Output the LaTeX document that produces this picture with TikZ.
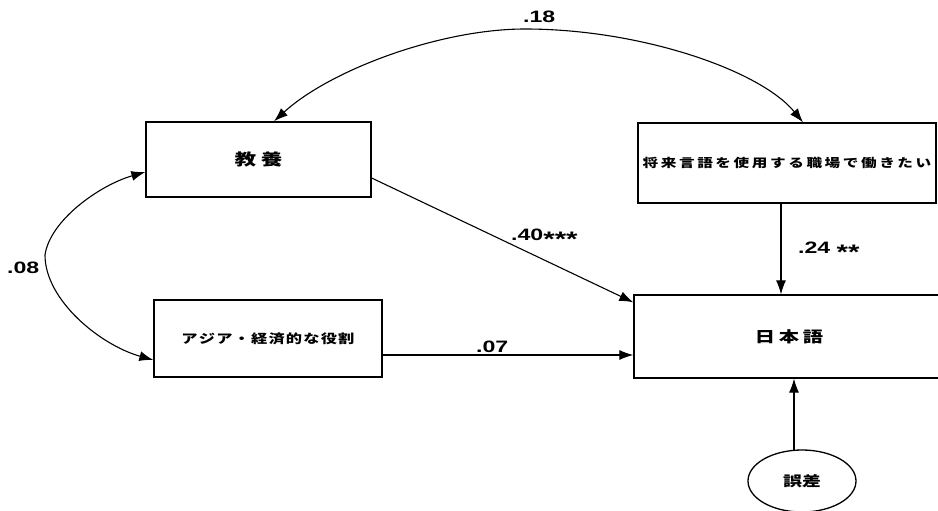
\documentclass[tikz,border=0pt]{standalone}
\usepackage{fontspec}
\usepackage{graphicx}
\newfontfamily\cjk{Noto Sans CJK JP}
\newfontfamily\numf{Liberation Sans}
\usetikzlibrary{arrows.meta,calc,shapes.geometric}

\newcommand\spreadtxt[2]{\def\sprsep{\hspace{#1}}\sprA#2\relax}
\def\sprA#1{#1\sprB}
\def\sprB#1{\ifx\relax#1\else\sprsep#1\expandafter\sprB\fi}
\newcommand\jp[4]{\scalebox{#2}[1]{\cjk\bfseries\fontsize{#1pt}{#1pt}\selectfont\spreadtxt{#3}{#4}}}
\newcommand\coef[1]{\scalebox{1.4}[1]{\numf\bfseries\fontsize{16.5pt}{16.5pt}\selectfont #1}}
\newcommand\lowstars[1]{\raisebox{-6pt}{\fontsize{21pt}{21pt}\selectfont #1}}

\tikzset{
  box/.style={draw, line width=1.3pt, inner sep=1pt, rectangle},
  conn/.style={line width=1.1pt},
  arr/.style={conn, -{Latex[length=14pt,width=10pt]}},
  darr/.style={conn, {Latex[length=14pt,width=10pt]}-{Latex[length=14pt,width=10pt]}},
  lab/.style={inner sep=0pt, anchor=base west},
}

\begin{document}
\begin{tikzpicture}[x=1pt,y=-1pt]
\useasboundingbox (0,0) rectangle (938,511);
\fill[white] (0,0) rectangle (938,511);

\node[box, minimum width=225pt, minimum height=75pt] (kyoyo) at (258.5,159.5) {\jp{16}{1.35}{3.5pt}{教養}};
\node[box, minimum width=298pt, minimum height=80pt] (shorai) at (787,163) {\jp{12}{1.3}{2pt}{将来言語を使用する職場で働きたい}};
\node[box, minimum width=228pt, minimum height=77pt] (asia) at (268,338.5) {\jp{12.5}{1.3}{0.9pt}{アジア・経済的な役割}};
\node[box, minimum width=310pt, minimum height=83pt] (nihongo) at (789,336.5) {\jp{15}{1.35}{2.7pt}{日本語}};
\node[draw, line width=1.3pt, ellipse, inner sep=0pt, minimum width=108pt, minimum height=62pt] (gosa) at (802,481) {\jp{14}{1.35}{0pt}{誤差}};

% .18 covariance
\draw[darr] ($(kyoyo.north)+(15.5,0)$) coordinate (k18)
  .. controls (330,70) and (440,29) .. (525,29) coordinate (apex18)
  .. controls (640,29) and (760,70) .. ($(shorai.north)+(16,0)$) coordinate (s18);

% .08 covariance
\draw[darr] ($(kyoyo.west)+(0,12.5)$) coordinate (k08)
  .. controls (100,185) and (50,220) .. (45,255) coordinate (apex08)
  .. controls (45,300) and (100,345) .. ($(asia.west)+(0,21.5)$) coordinate (a08);

% paths
\draw[arr] ($(kyoyo.east)+(0,18.5)$) coordinate (k40) -- ($(nihongo.north west)+(0,8)$) coordinate (n40);
\draw[arr] ($(asia.east)+(0,16.5)$) coordinate (a07) -- (a07 -| nihongo.west);
\draw[arr] ($(shorai.south)+(-6,0)$) coordinate (s24) -- (s24 |- nihongo.north);
\draw[arr] ($(gosa.north)+(-8,0.4)$) coordinate (g1) -- (g1 |- nihongo.south);

% labels
\node[lab] (l18) at (523,23) {\coef{.18}};
\node[lab] (l08) at (7,273) {\coef{.08}};
\node[lab] (l40) at (511,240) {\coef{.40\lowstars{***}}};
\node[lab] (l24) at (798,253) {\coef{.24 \lowstars{**}}};
\node[lab] (l07) at (476,352) {\coef{.07}};
\end{tikzpicture}
\end{document}
